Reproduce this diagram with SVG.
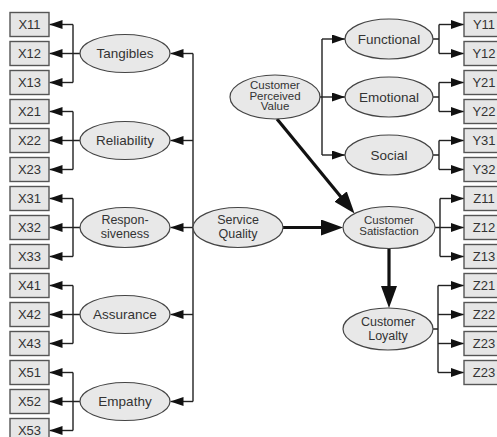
<svg xmlns="http://www.w3.org/2000/svg" width="497" height="437" viewBox="0 0 497 437">
<defs>
<marker id="a" markerUnits="userSpaceOnUse" viewBox="0 0 13 9" markerWidth="13" markerHeight="9" refX="13" refY="4.5" orient="auto"><path d="M0,0 L13,4.5 L0,9 z" fill="#111"/></marker>
<marker id="A" markerUnits="userSpaceOnUse" viewBox="0 0 22 16" markerWidth="22" markerHeight="16" refX="12" refY="8" orient="auto"><path d="M0,0 L22,8 L0,16 z" fill="#111"/></marker>
</defs>
<style>
.b{fill:#e6e6e6;stroke:#555;stroke-width:1.4}
.e{fill:#e8e8e8;stroke:#444;stroke-width:1.2}
text{font-family:"Liberation Sans",Arial,sans-serif;fill:#333;text-anchor:middle}
.t{font-size:13px}
.l{font-size:13.5px}
.m{font-size:12.5px}
.s{font-size:11.5px}
.c{fill:none;stroke:#222;stroke-width:1.4}
.ca{fill:none;stroke:#222;stroke-width:1.4;marker-end:url(#a)}
.k{fill:none;stroke:#111;stroke-width:3.2;marker-end:url(#A)}
</style>
<rect width="497" height="437" fill="#fff"/>
<g id="connectors">
<path class="c" d="M80,53.5H73M73,24.5V82.5M80,140.5H73M73,111.5V169.5M80,227.5H73M73,198.5V256.5M80,314.5H73M73,285.5V343.5M80,401.5H73M73,372.5V430.5"/>
<path class="ca" d="M73,24.5H49.5"/><path class="ca" d="M73,53.5H49.5"/><path class="ca" d="M73,82.5H49.5"/>
<path class="ca" d="M73,111.5H49.5"/><path class="ca" d="M73,140.5H49.5"/><path class="ca" d="M73,169.5H49.5"/>
<path class="ca" d="M73,198.5H49.5"/><path class="ca" d="M73,227.5H49.5"/><path class="ca" d="M73,256.5H49.5"/>
<path class="ca" d="M73,285.5H49.5"/><path class="ca" d="M73,314.5H49.5"/><path class="ca" d="M73,343.5H49.5"/>
<path class="ca" d="M73,372.5H49.5"/><path class="ca" d="M73,401.5H49.5"/><path class="ca" d="M73,430.5H49.5"/>
<path class="c" d="M193,53.5V401.5"/>
<path class="ca" d="M193,53.5H170.5"/><path class="ca" d="M193,140.5H170.5"/><path class="ca" d="M193,227.5H170.5"/><path class="ca" d="M193,314.5H170.5"/><path class="ca" d="M193,401.5H170.5"/>
<path class="c" d="M320,97H322M322,39V155"/>
<path class="ca" d="M322,39H345"/><path class="ca" d="M322,97H345"/><path class="ca" d="M322,155H345"/>
<path class="c" d="M433,39H439M439,24.5V53.5M433,97H439M439,82.5V111.5M433,155H439M439,140.5V169.5M435,227.5H440M440,198.5V256.5M433,329H438M438,285.5V372.5"/>
<path class="ca" d="M439,24.5H464"/><path class="ca" d="M439,53.5H464"/>
<path class="ca" d="M439,82.5H464"/><path class="ca" d="M439,111.5H464"/>
<path class="ca" d="M439,140.5H464"/><path class="ca" d="M439,169.5H464"/>
<path class="ca" d="M440,198.5H464"/><path class="ca" d="M440,227.5H464"/><path class="ca" d="M440,256.5H464"/>
<path class="ca" d="M438,285.5H464"/><path class="ca" d="M438,314.5H464"/><path class="ca" d="M438,343.5H464"/><path class="ca" d="M438,372.5H464"/>
<path class="k" d="M283,227.5H333"/>
<path class="k" d="M389,248.5V298"/>
<path class="k" d="M277,119L348.2,205.8"/>
</g>
<g id="X11"><rect class="b" x="10" y="12.5" width="39" height="24"/><text class="t" x="29.5" y="29">X11</text></g>
<g id="X12"><rect class="b" x="10" y="41.5" width="39" height="24"/><text class="t" x="29.5" y="58">X12</text></g>
<g id="X13"><rect class="b" x="10" y="70.5" width="39" height="24"/><text class="t" x="29.5" y="87">X13</text></g>
<g id="X21"><rect class="b" x="10" y="99.5" width="39" height="24"/><text class="t" x="29.5" y="116">X21</text></g>
<g id="X22"><rect class="b" x="10" y="128.5" width="39" height="24"/><text class="t" x="29.5" y="145">X22</text></g>
<g id="X23"><rect class="b" x="10" y="157.5" width="39" height="24"/><text class="t" x="29.5" y="174">X23</text></g>
<g id="X31"><rect class="b" x="10" y="186.5" width="39" height="24"/><text class="t" x="29.5" y="203">X31</text></g>
<g id="X32"><rect class="b" x="10" y="215.5" width="39" height="24"/><text class="t" x="29.5" y="232">X32</text></g>
<g id="X33"><rect class="b" x="10" y="244.5" width="39" height="24"/><text class="t" x="29.5" y="261">X33</text></g>
<g id="X41"><rect class="b" x="10" y="273.5" width="39" height="24"/><text class="t" x="29.5" y="290">X41</text></g>
<g id="X42"><rect class="b" x="10" y="302.5" width="39" height="24"/><text class="t" x="29.5" y="319">X42</text></g>
<g id="X43"><rect class="b" x="10" y="331.5" width="39" height="24"/><text class="t" x="29.5" y="348">X43</text></g>
<g id="X51"><rect class="b" x="10" y="360.5" width="39" height="24"/><text class="t" x="29.5" y="377">X51</text></g>
<g id="X52"><rect class="b" x="10" y="389.5" width="39" height="24"/><text class="t" x="29.5" y="406">X52</text></g>
<g id="X53"><rect class="b" x="10" y="418.5" width="39" height="24"/><text class="t" x="29.5" y="435">X53</text></g>
<g id="Tangibles"><ellipse class="e" cx="125" cy="53.5" rx="45" ry="19"/><text class="l" x="125" y="58">Tangibles</text></g>
<g id="Reliability"><ellipse class="e" cx="125" cy="140.5" rx="45" ry="19"/><text class="l" x="125" y="145">Reliability</text></g>
<g id="Responsiveness"><ellipse class="e" cx="125" cy="227.5" rx="45" ry="20"/><text class="m" x="125" y="224">Respon-</text><text class="m" x="125" y="238">siveness</text></g>
<g id="Assurance"><ellipse class="e" cx="125" cy="314.5" rx="45" ry="19"/><text class="l" x="125" y="319">Assurance</text></g>
<g id="Empathy"><ellipse class="e" cx="125" cy="401.5" rx="45" ry="19"/><text class="l" x="125" y="406">Empathy</text></g>
<g id="ServiceQuality"><ellipse class="e" cx="238" cy="227.5" rx="45" ry="20"/><text class="m" x="238" y="224">Service</text><text class="m" x="238" y="238">Quality</text></g>
<g id="CustomerPerceivedValue"><ellipse class="e" cx="275" cy="97" rx="45" ry="22"/><text class="s" x="275" y="89">Customer</text><text class="s" x="275" y="99.5">Perceived</text><text class="s" x="275" y="110">Value</text></g>
<g id="Functional"><ellipse class="e" cx="389" cy="39" rx="44" ry="20"/><text class="l" x="389" y="43.5">Functional</text></g>
<g id="Emotional"><ellipse class="e" cx="389" cy="97" rx="44" ry="20"/><text class="l" x="389" y="101.5">Emotional</text></g>
<g id="Social"><ellipse class="e" cx="389" cy="155" rx="44" ry="20"/><text class="l" x="389" y="159.5">Social</text></g>
<g id="CustomerSatisfaction"><ellipse class="e" cx="389" cy="227.5" rx="46" ry="21"/><text class="s" x="389" y="224">Customer</text><text class="s" x="389" y="235">Satisfaction</text></g>
<g id="CustomerLoyalty"><ellipse class="e" cx="388" cy="329" rx="45" ry="21"/><text class="m" x="388" y="325.5">Customer</text><text class="m" x="388" y="339.5">Loyalty</text></g>
<g id="Y11"><rect class="b" x="464" y="12.5" width="40" height="24"/><text class="t" x="484" y="29">Y11</text></g>
<g id="Y12"><rect class="b" x="464" y="41.5" width="40" height="24"/><text class="t" x="484" y="58">Y12</text></g>
<g id="Y21"><rect class="b" x="464" y="70.5" width="40" height="24"/><text class="t" x="484" y="87">Y21</text></g>
<g id="Y22"><rect class="b" x="464" y="99.5" width="40" height="24"/><text class="t" x="484" y="116">Y22</text></g>
<g id="Y31"><rect class="b" x="464" y="128.5" width="40" height="24"/><text class="t" x="484" y="145">Y31</text></g>
<g id="Y32"><rect class="b" x="464" y="157.5" width="40" height="24"/><text class="t" x="484" y="174">Y32</text></g>
<g id="Z11"><rect class="b" x="464" y="186.5" width="40" height="24"/><text class="t" x="484" y="203">Z11</text></g>
<g id="Z12"><rect class="b" x="464" y="215.5" width="40" height="24"/><text class="t" x="484" y="232">Z12</text></g>
<g id="Z13"><rect class="b" x="464" y="244.5" width="40" height="24"/><text class="t" x="484" y="261">Z13</text></g>
<g id="Z21"><rect class="b" x="464" y="273.5" width="40" height="24"/><text class="t" x="484" y="290">Z21</text></g>
<g id="Z22"><rect class="b" x="464" y="302.5" width="40" height="24"/><text class="t" x="484" y="319">Z22</text></g>
<g id="Z23a"><rect class="b" x="464" y="331.5" width="40" height="24"/><text class="t" x="484" y="348">Z23</text></g>
<g id="Z23b"><rect class="b" x="464" y="360.5" width="40" height="24"/><text class="t" x="484" y="377">Z23</text></g>
</svg>
